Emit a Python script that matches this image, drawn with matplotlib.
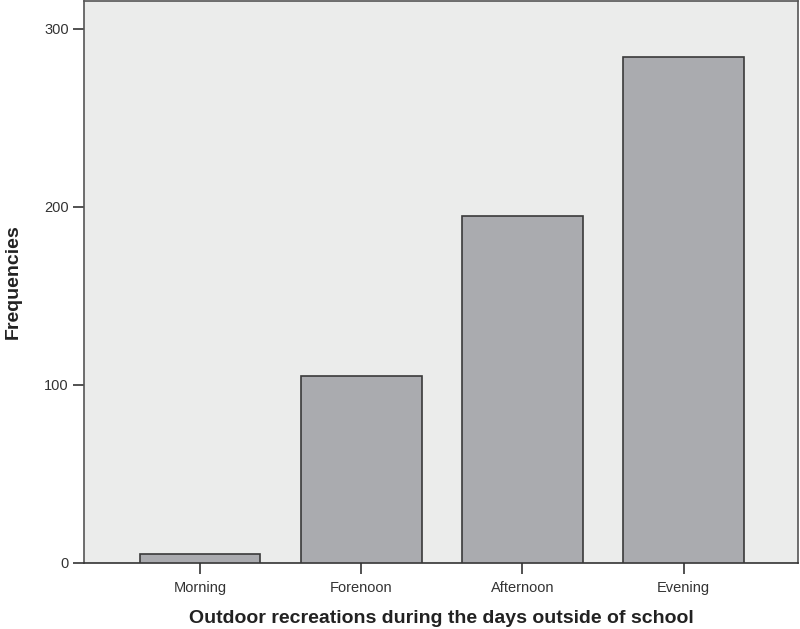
import matplotlib
matplotlib.use('Agg')
import matplotlib.pyplot as plt
import numpy as np

plt.rcParams['font.family'] = ['Liberation Sans', 'DejaVu Sans']

categories = ['Morning', 'Forenoon', 'Afternoon', 'Evening']
frequencies = [5, 105, 195, 284]
y_ticks = [0, 100, 200, 300]

BG = '#EBECEB'
BAR = '#AAABAF'
EDGE = '#3a3a3a'

fig = plt.figure(figsize=(8, 6.29), dpi=100)
ax = fig.add_axes([0.105, 0.105, 0.8925, 0.893])
ax.set_facecolor(BG)

x = np.arange(len(categories))
ax.bar(x, frequencies, width=0.75, color=BAR, edgecolor=EDGE, linewidth=1.2, zorder=3)

ax.set_xlim(-0.72, 3.71)
ax.set_ylim(0, 315.5)
ax.set_xticks(x)
ax.set_xticklabels(categories, fontsize=10.5, color='#333333')
ax.set_yticks(y_ticks)
ax.set_yticklabels([str(v) for v in y_ticks], fontsize=10.5, color='#333333')
ax.tick_params(axis='both', direction='out', length=8, width=1.2, color='#333333')
ax.tick_params(axis='x', pad=5)
ax.tick_params(axis='y', pad=3)

for sp in ax.spines.values():
    sp.set_color('#555555')
    sp.set_linewidth(1.2)
ax.spines['bottom'].set_color('#333333')

ax.set_xlabel('Outdoor recreations during the days outside of school',
              fontsize=14, fontweight='bold', color='#222222', labelpad=11)
ax.set_ylabel('Frequencies', fontsize=14, fontweight='bold', color='#222222', labelpad=16)

plt.savefig('out.png', dpi=100)
plt.close()
